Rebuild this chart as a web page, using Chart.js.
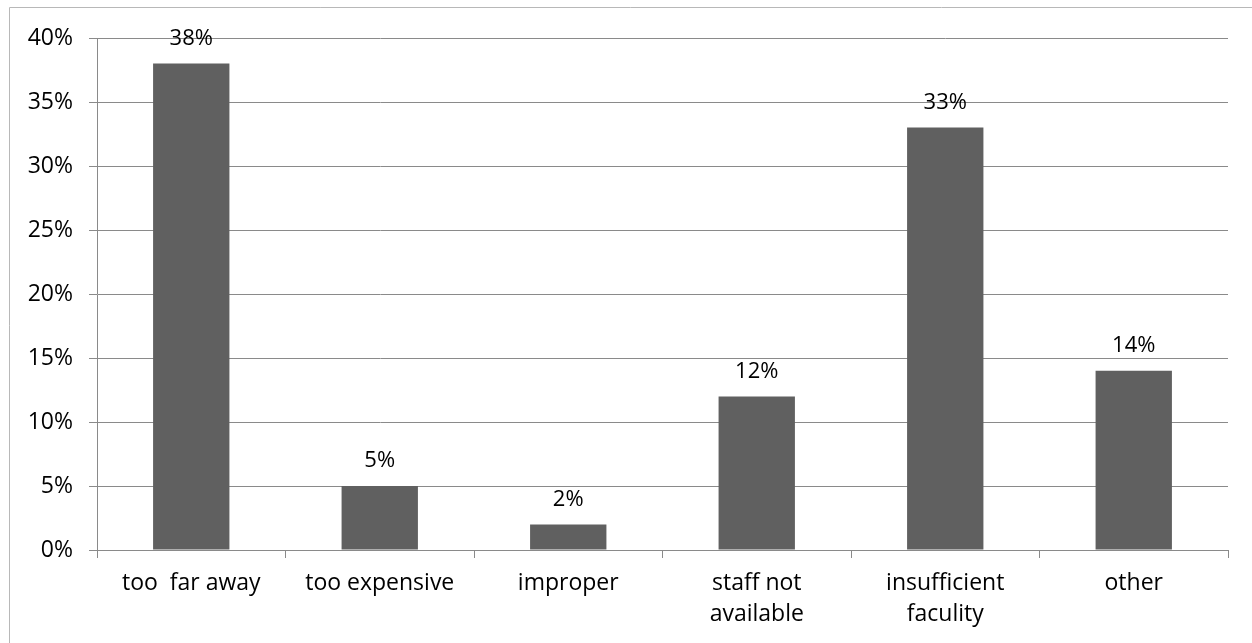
<!DOCTYPE html>
<html lang="en">
<head>
    <meta charset="UTF-8">
    <title>Reasons</title>
    <script src="https://cdn.jsdelivr.net/npm/chart.js"></script>
    <style>
        body { margin: 0; background: #fff; }
        #wrap { width: 1252px; height: 643px; }
    </style>
</head>
<body>
    <div id="wrap"><canvas id="reasonChart" width="1252" height="643"></canvas></div>
    <script>
        // categories and values (percent)
        const categories = [
            ['too  far away'],
            ['too expensive'],
            ['improper'],
            ['staff not', 'available'],
            ['insufficient', 'faculity'],
            ['other']
        ];
        const shares = [38, 5, 2, 12, 33, 14];
        const yTicks = [0, 5, 10, 15, 20, 25, 30, 35, 40];

        const fontName = '"Open Sans", "Liberation Sans", sans-serif';
        const fontSize = 23;

        // frame around the whole chart (only left and top edges show)
        const framePlugin = {
            id: 'frame',
            beforeDraw(chart) {
                const c = chart.ctx;
                c.save();
                c.strokeStyle = '#b8b8b8';
                c.lineWidth = 1;
                c.beginPath();
                c.moveTo(9.5, 643);
                c.lineTo(9.5, 7.5);
                c.lineTo(1252, 7.5);
                c.stroke();
                c.restore();
            }
        };

        // value labels above the bars
        const valueLabels = {
            id: 'valueLabels',
            afterDatasetsDraw(chart) {
                const c = chart.ctx;
                const meta = chart.getDatasetMeta(0);
                c.save();
                c.fillStyle = '#000';
                c.font = (fontSize - 1) + 'px ' + fontName;
                c.textAlign = 'center';
                c.textBaseline = 'middle';
                meta.data.forEach(function(bar, i) {
                    c.fillText(shares[i] + '%', bar.x, bar.y - 25);
                });
                c.restore();
            }
        };

        const ctx = document.getElementById('reasonChart').getContext('2d');
        const reasonChart = new Chart(ctx, {
            type: 'bar',
            data: {
                labels: categories,
                datasets: [{
                    data: shares,
                    backgroundColor: '#606060',
                    categoryPercentage: 1,
                    barPercentage: 0.405
                }]
            },
            options: {
                responsive: false,
                animation: false,
                layout: { padding: { left: 10, top: 38, right: 24, bottom: 0 } },
                plugins: {
                    legend: { display: false },
                    tooltip: { enabled: false }
                },
                scales: {
                    x: {
                        offset: true,
                        afterFit(scale) { scale.height = 93; },
                        grid: {
                            offset: true,
                            drawOnChartArea: false,
                            drawTicks: true,
                            tickLength: 8,
                            color: '#8a8a8a'
                        },
                        border: { color: '#8a8a8a' },
                        ticks: {
                            color: '#000',
                            font: { family: fontName, size: fontSize, lineHeight: 1.35 },
                            padding: 10,
                            maxRotation: 0,
                            autoSkip: false
                        }
                    },
                    y: {
                        min: 0,
                        max: 40,
                        afterFit(scale) { scale.width = 87; },
                        afterBuildTicks(scale) {
                            scale.ticks = yTicks.map(function(v) { return { value: v }; });
                        },
                        grid: {
                            color: '#8a8a8a',
                            tickLength: 8
                        },
                        border: { color: '#8a8a8a' },
                        ticks: {
                            color: '#000',
                            font: { family: fontName, size: fontSize },
                            padding: 16,
                            callback: function(v) { return v + '%'; }
                        }
                    }
                }
            },
            plugins: [framePlugin, valueLabels]
        });
    </script>
</body>
</html>
